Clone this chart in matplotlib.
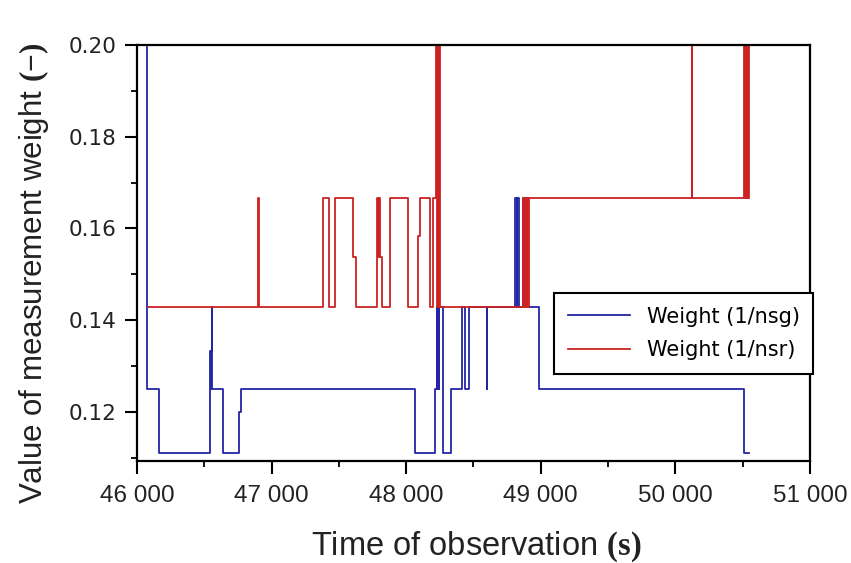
import numpy as np
import matplotlib
matplotlib.use("Agg")
from matplotlib import pyplot as plt
from matplotlib.ticker import FuncFormatter, MultipleLocator

plt.rcParams['mathtext.fontset'] = 'custom'
plt.rcParams['mathtext.bf'] = 'Liberation Serif:bold'
plt.rcParams['mathtext.rm'] = 'Liberation Serif'

# Weight (1/nsg) -- step values, x = time of observation (s)
t_nsg = [46074, 46078, 46164, 46543, 46548, 46551, 46555, 46560, 46640, 46760,
         46775, 48068, 48217, 48228, 48232, 48236, 48240, 48245, 48277, 48336,
         48418, 48440, 48463, 48597, 48603, 48812, 48820, 48826, 48835, 48865,
         48872, 48880, 48888, 48896, 48904, 48984, 50509, 50546]
w_nsg = [0.2, 0.125, 0.1111, 0.1333, 0.125, 0.1333, 0.1429, 0.125, 0.1111, 0.12,
         0.125, 0.1111, 0.125, 0.1429, 0.125, 0.1429, 0.125, 0.1429, 0.1111, 0.125,
         0.1429, 0.125, 0.1429, 0.125, 0.1429, 0.1667, 0.1429, 0.1667, 0.1429, 0.1667,
         0.1429, 0.1667, 0.1429, 0.1667, 0.1429, 0.125, 0.1111, 0.1111]

# Weight (1/nsr)
t_nsr = [46082, 46900, 46904, 47384, 47429, 47473, 47607, 47629, 47786, 47792,
         47797, 47805, 47823, 47882, 48016, 48091, 48106, 48180, 48202, 48225,
         48232, 48236, 48243, 48247, 48252, 48865, 48872, 48880, 48888, 48896,
         48904, 48909, 50120, 50124, 50510, 50516, 50522, 50530, 50538, 50546]
w_nsr = [0.1429, 0.1667, 0.1429, 0.1667, 0.1429, 0.1667, 0.1538, 0.1429, 0.1667, 0.1538,
         0.1667, 0.1538, 0.1429, 0.1667, 0.1429, 0.1583, 0.1667, 0.1429, 0.1667, 0.2,
         0.1429, 0.2, 0.1429, 0.2, 0.1429, 0.1667, 0.1429, 0.1667, 0.1429, 0.1667,
         0.1429, 0.1667, 0.2, 0.1667, 0.2, 0.1667, 0.2, 0.1667, 0.2, 0.1667]

blue = '#2424a6'
red = '#cc2222'

fig = plt.figure(figsize=(8.51, 5.63), dpi=100)
ax = fig.add_axes([137/851, 1-461/563, (810-137)/851, (461-45)/563])

ax.step(t_nsg, w_nsg, where='post', color=blue, lw=1.3, label='Weight (1/nsg)')
ax.step(t_nsr, w_nsr, where='post', color=red, lw=1.3, label='Weight (1/nsr)')

ax.set_xlim(46000, 51000)
ax.set_ylim(0.1093, 0.20)

ax.xaxis.set_major_locator(MultipleLocator(1000))
ax.xaxis.set_minor_locator(MultipleLocator(500))
ax.yaxis.set_major_locator(MultipleLocator(0.02))
ax.yaxis.set_minor_locator(MultipleLocator(0.01))
ax.xaxis.set_major_formatter(FuncFormatter(lambda v, p: f"{int(v)//1000} {int(v)%1000:03d}"))
ax.yaxis.set_major_formatter(FuncFormatter(lambda v, p: f"{v:.2f}"))

for s in ax.spines.values():
    s.set_linewidth(1.6)
ax.tick_params(which='major', direction='out', length=9, width=1.5, top=False, right=False)
ax.tick_params(which='minor', direction='out', length=4, width=1.3, top=False, right=False)
ax.tick_params(axis='y', which='major', pad=6)
ax.tick_params(axis='x', which='major', pad=8)
for lab in ax.get_yticklabels():
    lab.set_fontfamily('DejaVu Sans')
    lab.set_fontsize(15.5)
    lab.set_color('#222222')
for lab in ax.get_xticklabels():
    lab.set_fontfamily('Liberation Sans')
    lab.set_fontsize(17.5)
    lab.set_color('#222222')

ax.set_xlabel(r'Time of observation $\mathbf{(s)}$', fontfamily='Liberation Sans',
              fontsize=23.5, color='#222222')
ax.set_ylabel(r'Value of measurement weight $\mathbf{(-)}$', fontfamily='Liberation Sans',
              fontsize=22.5, color='#222222')
ax.xaxis.set_label_coords(0.504, -0.165)
ax.yaxis.set_label_coords(-0.128, 0.45)

leg = ax.legend(loc='upper left', bbox_to_anchor=(554/851, 1-293/563),
                bbox_transform=fig.transFigure, borderaxespad=0, fancybox=False,
                edgecolor='black', framealpha=1, prop={'family': 'DejaVu Sans', 'size': 15},
                handlelength=3.0, handletextpad=0.8, labelspacing=0.65, borderpad=0.65)
leg.get_frame().set_linewidth(1.5)

fig.savefig('out.png', dpi=100)
